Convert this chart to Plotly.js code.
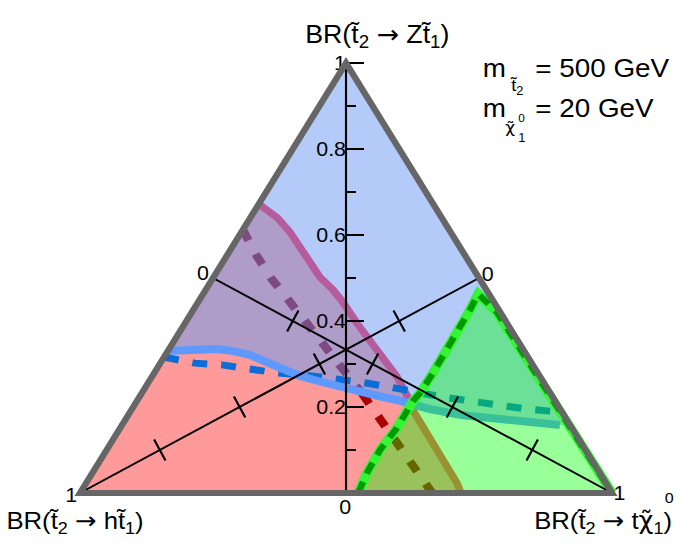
<!DOCTYPE html>
<html>
<head>
<meta charset="utf-8">
<script src="https://cdn.plot.ly/plotly-3.0.1.min.js"></script>
<style>
  html, body { margin: 0; padding: 0; background: #ffffff; overflow: hidden; }
  /* the figure is laid out narrower and widened horizontally as a whole */
  #chart { width: 652px; height: 553px; transform: scaleX(1.070552); transform-origin: 0 0; }
</style>
</head>
<body>
<div id="chart"></div>
<script>
// Ternary map of the heavier stop branching ratios:
//   BR(t2 -> Z t1) + BR(t2 -> h t1) + BR(t2 -> t chi1^0) = 1.
// Every contour is stored as pairs (BR to Z t1, BR to t chi); BR to h t1 is the remainder.

// Z t1 channel, observed contour
const zObsBrZ = [0.330, 0.335, 0.335, 0.330, 0.321, 0.305, 0.286, 0.272, 0.261, 0.251, 0.242, 0.233, 0.223, 0.214, 0.195, 0.181, 0.172, 0.165, 0.158];
const zObsBrT = [0.000, 0.058, 0.090, 0.123, 0.159, 0.197, 0.239, 0.278, 0.315, 0.350, 0.387, 0.423, 0.458, 0.495, 0.560, 0.629, 0.698, 0.763, 0.823];
// Z t1 channel, expected contour
const zExpBrZ = [0.316, 0.302, 0.298, 0.288, 0.279, 0.274, 0.267, 0.258, 0.247, 0.235, 0.223, 0.214, 0.202, 0.195, 0.188];
const zExpBrT = [0.000, 0.065, 0.118, 0.175, 0.231, 0.286, 0.340, 0.397, 0.456, 0.509, 0.571, 0.626, 0.688, 0.743, 0.812];

// h t1 channel, observed contour (part above and part below the Z t1 contour)
const hObsUpperBrZ = [0.672, 0.640, 0.607, 0.572, 0.535, 0.502, 0.472, 0.444, 0.395, 0.356, 0.316, 0.270, 0.223, 0.205];
const hObsUpperBrT = [0.000, 0.051, 0.091, 0.128, 0.165, 0.200, 0.240, 0.272, 0.323, 0.367, 0.411, 0.461, 0.505, 0.522];
const hObsLowerBrZ = [0.193, 0.177, 0.140, 0.100, 0.061, 0.023, 0.000];
const hObsLowerBrT = [0.529, 0.545, 0.583, 0.621, 0.660, 0.697, 0.716];
// h t1 channel, expected contour
const hExpUpperBrZ = [0.612, 0.554, 0.500, 0.449, 0.395, 0.340, 0.291, 0.247, 0.231];
const hExpUpperBrT = [0.000, 0.054, 0.109, 0.167, 0.225, 0.287, 0.343, 0.397, 0.415];
const hExpLowerBrZ = [0.231, 0.188, 0.142, 0.084, 0.030, 0.000];
const hExpLowerBrT = [0.415, 0.460, 0.512, 0.571, 0.630, 0.662];

// t chi1^0 channel, observed contour
const metObsBrZ = [0.000, 0.047, 0.100, 0.151, 0.214, 0.233, 0.279, 0.333, 0.386, 0.426, 0.463, 0.420, 0.000];
const metObsBrT = [0.523, 0.516, 0.514, 0.520, 0.519, 0.523, 0.524, 0.524, 0.521, 0.520, 0.517, 0.574, 1.000];

// Axis ticks
const axisTickVals = [0.2, 0.4, 0.6, 0.8, 1.0];
const axisTickText = ['0.2', '0.4', '0.6', '0.8', '1'];
const axisMinorVals = [0.1, 0.3, 0.5, 0.7, 0.9];
const medianTickVals = [0.2, 0.4, 0.6, 0.8];

// ---- page geometry (final, widened pixels) ----
const S = 1.070552;                 // horizontal widening of the figure
const W = 698, H = 553;
const CX = 346, HALF = 266, BASE = 493, HT = 430;
const xRange = [-CX / (2 * HALF), (W - CX) / (2 * HALF)];
const yRange = [-(H - BASE) / HT, BASE / HT];
const FONT = 'Liberation Sans, Arial, Helvetica, sans-serif';
const ARROW = '<span style="font-family:DejaVu Sans">\u2192</span>';
const CHI = '<span style="font-family:DejaVu Sans">\u03c7\u0303</span>';

// ternary (BR Z, BR t) -> cartesian
function toXY(z, t) { return [t + z / 2 - 0.5, z]; }
function series(zs, ts) {
  const x = [], y = [];
  zs.forEach((z, i) => { const p = toXY(z, ts[i]); x.push(p[0]); y.push(p[1]); });
  return { x, y };
}
function toPx(p) { return [CX + p[0] * 2 * HALF, BASE - p[1] * HT]; }
function fromPx(q) { return [(q[0] - CX) / (2 * HALF), (BASE - q[1]) / HT]; }

const traces = [];
function area(s, color) {
  traces.push({ type: 'scatter', mode: 'lines', x: s.x, y: s.y, fill: 'toself',
    fillcolor: color, line: { width: 0, color: 'rgba(0,0,0,0)' }, hoverinfo: 'skip' });
}
function curve(s, color, width, dash) {
  traces.push({ type: 'scatter', mode: 'lines', x: s.x, y: s.y,
    line: { color: color, width: width, dash: dash || 'solid' }, hoverinfo: 'skip' });
}

// Region above the Z t1 contour
const zLast = zObsBrZ[zObsBrZ.length - 1];
area(series([1].concat(zObsBrZ, [zLast]), [0].concat(zObsBrT, [1 - zLast])), '#b4cbfa');

// Region left of the h t1 contour, above the Z t1 contour
const hSplitT = hObsUpperBrT[hObsUpperBrT.length - 1];
const hSplitZ = hObsUpperBrZ[hObsUpperBrZ.length - 1];
const zUpZ = [], zUpT = [];
zObsBrT.forEach((t, i) => { if (t < hSplitT) { zUpZ.push(zObsBrZ[i]); zUpT.push(t); } });
area(series(hObsUpperBrZ.concat(zUpZ.slice().reverse()), hObsUpperBrT.concat(zUpT.slice().reverse())), '#b09cc9');

// Region left of the h t1 contour, below the Z t1 contour
area(series([0].concat(zUpZ, [hSplitZ], hObsLowerBrZ), [0].concat(zUpT, [hSplitT], hObsLowerBrT)), '#ff9a9a');

// contour lines
curve(series(hExpUpperBrZ, hExpUpperBrT), '#7e4a82', 8, '12px,15px');
curve(series(hExpLowerBrZ, hExpLowerBrT), '#aa0000', 8, '12px,15px');
curve(series(hObsUpperBrZ, hObsUpperBrT), '#b65c9c', 7);
curve(series(hObsLowerBrZ, hObsLowerBrT), '#ff4a55', 7);
curve(series(zExpBrZ, zExpBrT), '#0a6ed6', 7, '14px,13px');
curve(series(zObsBrZ, zObsBrT), '#5f98ff', 8);

// t chi1^0 region (translucent) and its contour
const met = series(metObsBrZ, metObsBrT);
area(met, 'rgba(0,255,0,0.4)');
curve(met, '#33f533', 9);
curve(met, '#009a00', 6, '12px,9px');

// medians of the triangle with their ticks
const vZ = [1, 0], vH = [0, 0], vT = [0, 1];
const mZ = [0, 0.5], mH = [0.5, 0.5], mT = [0.5, 0];
const medX = [], medY = [];
[[vZ, mZ], [vH, mH], [vT, mT]].forEach(([a, b]) => {
  const p = toXY(a[0], a[1]), q = toXY(b[0], b[1]);
  medX.push(p[0], q[0], null); medY.push(p[1], q[1], null);
});
traces.push({ type: 'scatter', mode: 'lines', x: medX, y: medY, line: { color: '#000', width: 2 }, hoverinfo: 'skip' });

const crossX = [], crossY = [];
function crosses(vertex, mid, pointAt) {
  const a = toPx(toXY(vertex[0], vertex[1])), b = toPx(toXY(mid[0], mid[1]));
  const len = Math.hypot(b[0] - a[0], b[1] - a[1]);
  const n = [-(b[1] - a[1]) / len, (b[0] - a[0]) / len];
  medianTickVals.forEach(v => {
    const c = toPx(toXY(...pointAt(v)));
    const p1 = fromPx([c[0] + 12 * n[0], c[1] + 12 * n[1]]);
    const p2 = fromPx([c[0] - 12 * n[0], c[1] - 12 * n[1]]);
    crossX.push(p1[0], p2[0], null); crossY.push(p1[1], p2[1], null);
  });
}
crosses(vH, mH, v => [(1 - v) / 2, (1 - v) / 2]);
crosses(vT, mT, v => [(1 - v) / 2, v]);
traces.push({ type: 'scatter', mode: 'lines', x: crossX, y: crossY, line: { color: '#000', width: 2 }, hoverinfo: 'skip' });

// triangle frame
const fz = toXY(1, 0), fh = toXY(0, 0), ft = toXY(0, 1);
const frame = {
  type: 'path', xref: 'x', yref: 'y', layer: 'above',
  path: `M ${fh[0]},${fh[1]} L ${fz[0]},${fz[1]} L ${ft[0]},${ft[1]} Z`,
  line: { color: '#666666', width: 6 }, fillcolor: 'rgba(0,0,0,0)'
};

function paperNote(text, px, py, size, xanchor) {
  return { xref: 'paper', yref: 'paper', x: px / W, y: 1 - py / H, text: text, showarrow: false,
    font: { family: FONT, size: size, color: '#000' }, xanchor: xanchor || 'left', yanchor: 'middle', borderpad: 0 };
}
function endNote(text, p, dx, dy) {
  const q = toXY(p[0], p[1]);
  return { xref: 'x', yref: 'y', x: q[0], y: q[1], xshift: dx / S, yshift: dy, text: text, showarrow: false,
    font: { family: FONT, size: 20, color: '#000' }, xanchor: 'center', yanchor: 'middle', borderpad: 0 };
}

const annotations = [
  paperNote('BR(t\u0303<sub>2</sub> ' + ARROW + ' Zt\u0303<sub>1</sub>)', 377.5, 36, 25, 'center'),
  paperNote('BR(t\u0303<sub>2</sub> ' + ARROW + ' ht\u0303<sub>1</sub>)', 75, 522, 24, 'center'),
  paperNote('BR(t\u0303<sub>2</sub> ' + ARROW + ' t' + CHI + '<sub>1</sub>)', 603, 522, 24, 'center'),
  paperNote('0', 664, 498, 15, 'left'),
  paperNote('m', 482, 68, 26, 'left'),
  paperNote('t\u0303<sub>2</sub>', 509, 87, 17, 'left'),
  paperNote('= 500 GeV', 534, 68, 26, 'left'),
  paperNote('m', 482, 108, 26, 'left'),
  paperNote(CHI, 504, 127, 16, 'left'),
  paperNote('0', 517, 118, 11, 'left'),
  paperNote('1', 517, 138, 12, 'left'),
  paperNote('= 20 GeV', 534, 108, 26, 'left'),
  endNote('1', vH, -9, -2),
  endNote('1', vT, 7, 0),
  endNote('0', mT, -10.5, 4.7),
  endNote('0', mH, 8.5, 4.3),
  endNote('0', mZ, -1, -14)
];

const layout = {
  width: Math.round(W / S), height: H,
  margin: { l: 0, r: 0, t: 0, b: 0, pad: 0 },
  paper_bgcolor: '#ffffff', plot_bgcolor: '#ffffff',
  showlegend: false,
  xaxis: { range: xRange, domain: [0, 1], visible: false, fixedrange: true },
  yaxis: {
    range: yRange, domain: [0, 1], anchor: 'free', position: CX / W, side: 'left',
    showline: false, showgrid: false, zeroline: false,
    ticks: 'inside', ticklen: 16, tickwidth: 2, tickcolor: '#000',
    tickmode: 'array', tickvals: axisTickVals, ticktext: axisTickText,
    tickfont: { family: FONT, size: 20, color: '#000' },
    minor: { tickmode: 'array', tickvals: axisMinorVals, ticks: 'inside', ticklen: 8, tickwidth: 2, tickcolor: '#000', showgrid: false },
    fixedrange: true
  },
  shapes: [frame],
  annotations: annotations
};

Plotly.newPlot('chart', traces, layout, { staticPlot: true, displayModeBar: false });
</script>
</body>
</html>
